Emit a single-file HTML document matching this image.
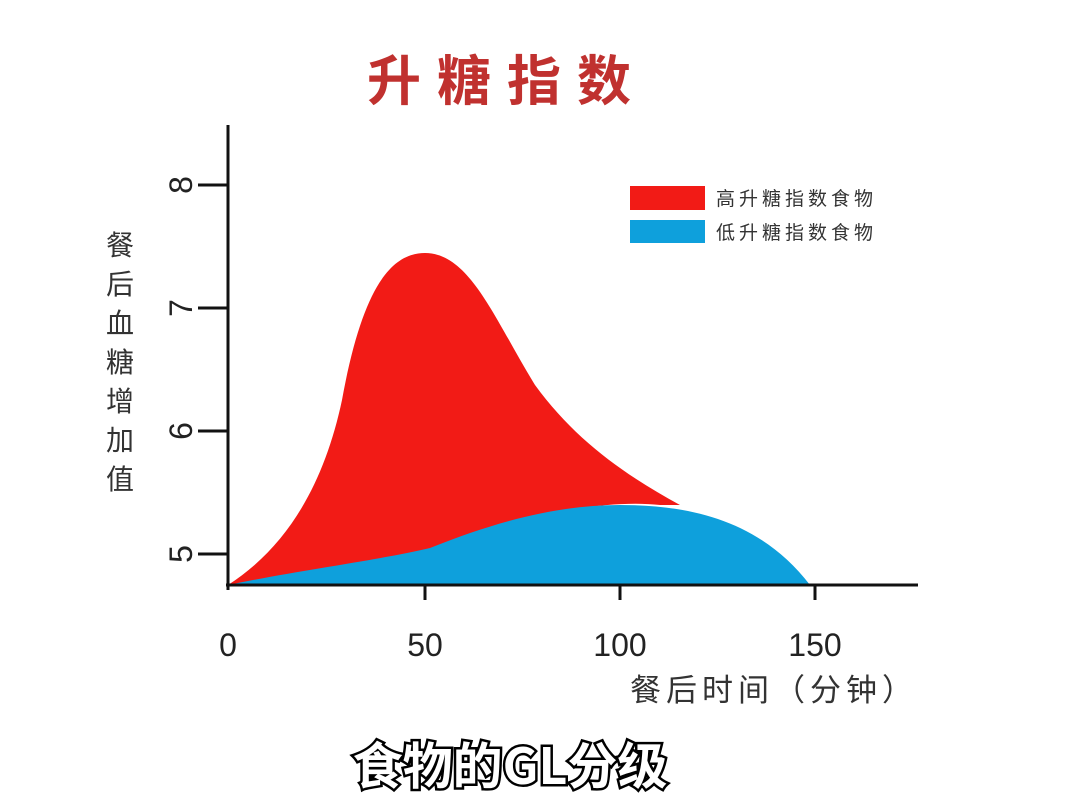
<!DOCTYPE html>
<html><head><meta charset="utf-8"><style>
html,body{margin:0;padding:0;background:#fff;}
svg{display:block}
</style></head><body>
<svg width="1080" height="810" viewBox="0 0 1080 810" xmlns="http://www.w3.org/2000/svg" font-family="Liberation Sans, Noto Sans CJK SC, sans-serif">
<rect width="1080" height="810" fill="#fff"/>
<text x="507" y="100" font-size="54" fill="#c0312f" text-anchor="middle" font-weight="bold" font-family="Noto Sans CJK SC, sans-serif" letter-spacing="16">升糖指数</text>
<!-- red area -->
<path d="M228,585 C290,545 325,480 342,400 C362,290 390,253 425,253 C470,253 495,320 535,385 C575,440 625,475 680,505 L660,505 C600,498 500,520 430,550 C350,570 280,580 228,585 Z" fill="#f21b16"/>
<!-- blue area -->
<path d="M228,585 C300,570 380,560 430,548 C500,520 560,505 620,505 C690,505 760,520 810,585 Z" fill="#0ea0dc"/>
<!-- axes -->
<line x1="228" y1="125" x2="228" y2="590" stroke="#111" stroke-width="3"/>
<line x1="226" y1="585" x2="918" y2="585" stroke="#111" stroke-width="3"/>
<g stroke="#111" stroke-width="3">
<line x1="198" y1="185" x2="228" y2="185"/>
<line x1="198" y1="308" x2="228" y2="308"/>
<line x1="198" y1="431" x2="228" y2="431"/>
<line x1="198" y1="554" x2="228" y2="554"/>
<line x1="425" y1="585" x2="425" y2="600"/>
<line x1="620" y1="585" x2="620" y2="600"/>
<line x1="815" y1="585" x2="815" y2="600"/>
</g>
<g font-size="32" fill="#222" text-anchor="middle">
<text transform="translate(192,185) rotate(-90)">8</text>
<text transform="translate(192,308) rotate(-90)">7</text>
<text transform="translate(192,431) rotate(-90)">6</text>
<text transform="translate(192,554) rotate(-90)">5</text>
<text x="228" y="656">0</text>
<text x="425" y="656">50</text>
<text x="620" y="656">100</text>
<text x="815" y="656">150</text>
</g>
<g font-size="28" fill="#333" text-anchor="middle" font-family="Noto Sans CJK SC, sans-serif">
<text x="120" y="255">餐</text><text x="120" y="294">后</text><text x="120" y="333">血</text>
<text x="120" y="372">糖</text><text x="120" y="411">增</text><text x="120" y="450">加</text><text x="120" y="489">值</text>
</g>
<text x="630" y="701" font-size="31" fill="#333" font-family="Noto Sans CJK SC, sans-serif" letter-spacing="5">餐后时间（分钟）</text>
<rect x="630" y="186" width="75" height="24" fill="#f21b16"/>
<rect x="630" y="220" width="75" height="23" fill="#0ea0dc"/>
<g font-size="19" fill="#333" font-family="Noto Sans CJK SC, sans-serif" letter-spacing="4">
<text x="716" y="205">高升糖指数食物</text>
<text x="716" y="239">低升糖指数食物</text>
</g>
<text x="510" y="784" font-size="50" fill="#fff" stroke="#000" stroke-width="5" paint-order="stroke" text-anchor="middle" font-weight="bold" font-family="Noto Sans CJK SC, sans-serif">食物的GL分级</text>
</svg>
</body></html>
